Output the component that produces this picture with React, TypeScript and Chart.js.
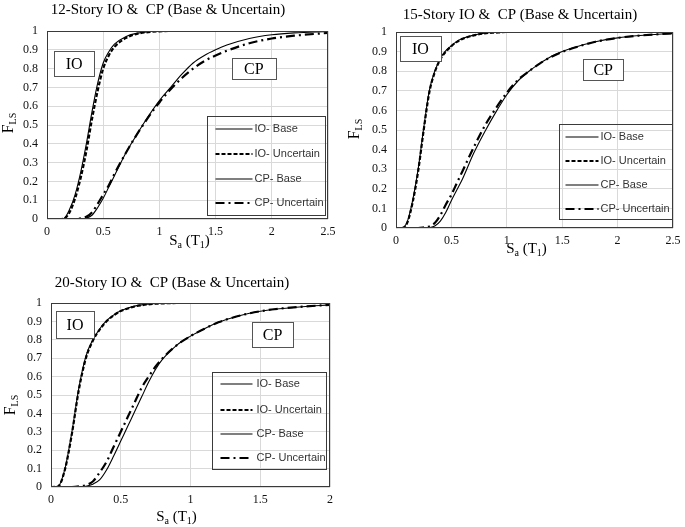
import React, { useEffect, useRef } from "react";
import { Chart, registerables } from "chart.js";

Chart.register(...registerables);

const SERIF = "'Liberation Serif', 'Times New Roman', serif";
const SANS = "'Liberation Sans', Arial, sans-serif";

const SERIES_LABELS = ["IO- Base", "IO- Uncertain", "CP- Base", "CP- Uncertain"];

// ---- 12-story ----
const X_12 = [0, 0.05, 0.1, 0.15, 0.2, 0.25, 0.3, 0.35, 0.4, 0.45, 0.5, 0.55, 0.6, 0.7, 0.8, 0.9, 1.0, 1.1, 1.2, 1.3, 1.4, 1.5, 1.6, 1.8, 2.0, 2.2, 2.5];
const IO_BASE_12 = [0, 0, 0, 0.003, 0.05, 0.13, 0.25, 0.4, 0.57, 0.72, 0.83, 0.89, 0.93, 0.97, 0.988, 0.996, 1, 1, 1, 1, 1, 1, 1, 1, 1, 1, 1];
const IO_UNC_12 = [0, 0, 0, 0.002, 0.035, 0.11, 0.22, 0.36, 0.53, 0.68, 0.8, 0.87, 0.915, 0.962, 0.985, 0.994, 0.998, 1, 1, 1, 1, 1, 1, 1, 1, 1, 1];
const CP_BASE_12 = [0, 0, 0, 0, 0, 0, 0, 0.005, 0.02, 0.06, 0.11, 0.17, 0.23, 0.35, 0.45, 0.545, 0.63, 0.7, 0.77, 0.83, 0.87, 0.9, 0.925, 0.96, 0.98, 0.99, 0.997];
const CP_UNC_12 = [0, 0, 0, 0, 0, 0, 0.004, 0.012, 0.035, 0.08, 0.13, 0.18, 0.24, 0.35, 0.45, 0.54, 0.62, 0.69, 0.75, 0.8, 0.84, 0.87, 0.895, 0.935, 0.96, 0.975, 0.99];

// ---- 15-story ----
const X_15 = [0, 0.05, 0.1, 0.15, 0.2, 0.25, 0.3, 0.35, 0.4, 0.45, 0.5, 0.55, 0.6, 0.7, 0.8, 0.9, 1.0, 1.1, 1.2, 1.3, 1.4, 1.5, 1.6, 1.8, 2.0, 2.2, 2.5];
const IO_BASE_15 = [0, 0, 0.03, 0.14, 0.3, 0.51, 0.7, 0.8, 0.865, 0.905, 0.93, 0.952, 0.967, 0.984, 0.994, 0.998, 1, 1, 1, 1, 1, 1, 1, 1, 1, 1, 1];
const IO_UNC_15 = [0, 0, 0.025, 0.13, 0.29, 0.5, 0.69, 0.795, 0.86, 0.9, 0.928, 0.95, 0.965, 0.982, 0.993, 0.997, 1, 1, 1, 1, 1, 1, 1, 1, 1, 1, 1];
const CP_BASE_15 = [0, 0, 0, 0, 0, 0, 0.002, 0.01, 0.035, 0.08, 0.14, 0.195, 0.25, 0.38, 0.49, 0.59, 0.68, 0.75, 0.8, 0.84, 0.875, 0.9, 0.92, 0.95, 0.97, 0.982, 0.993];
const CP_UNC_15 = [0, 0, 0, 0, 0, 0.003, 0.008, 0.025, 0.065, 0.12, 0.17, 0.23, 0.29, 0.41, 0.52, 0.61, 0.69, 0.755, 0.8, 0.84, 0.873, 0.898, 0.918, 0.95, 0.97, 0.982, 0.993];

// ---- 20-story ----
const X_20 = [0, 0.05, 0.1, 0.15, 0.2, 0.25, 0.3, 0.35, 0.4, 0.45, 0.5, 0.55, 0.6, 0.65, 0.7, 0.75, 0.8, 0.9, 1.0, 1.1, 1.2, 1.3, 1.4, 1.5, 1.6, 1.8, 2.0];
const IO_BASE_20 = [0, 0.003, 0.1, 0.3, 0.54, 0.71, 0.8, 0.86, 0.905, 0.935, 0.958, 0.972, 0.983, 0.99, 0.994, 0.997, 0.998, 1, 1, 1, 1, 1, 1, 1, 1, 1, 1];
const IO_UNC_20 = [0, 0.003, 0.095, 0.29, 0.53, 0.7, 0.795, 0.857, 0.902, 0.933, 0.956, 0.97, 0.981, 0.988, 0.993, 0.996, 0.998, 1, 1, 1, 1, 1, 1, 1, 1, 1, 1];
const CP_BASE_20 = [0, 0, 0, 0, 0, 0.004, 0.015, 0.04, 0.095, 0.17, 0.25, 0.33, 0.41, 0.49, 0.57, 0.64, 0.695, 0.77, 0.82, 0.86, 0.895, 0.92, 0.94, 0.955, 0.966, 0.98, 0.99];
const CP_UNC_20 = [0, 0, 0, 0, 0.003, 0.01, 0.03, 0.08, 0.14, 0.22, 0.3, 0.38, 0.46, 0.54, 0.6, 0.655, 0.7, 0.77, 0.82, 0.86, 0.895, 0.92, 0.94, 0.955, 0.966, 0.98, 0.99];

const TITLES = [
  "12-Story IO &  CP (Base & Uncertain)",
  "15-Story IO &  CP (Base & Uncertain)",
  "20-Story IO &  CP (Base & Uncertain)",
];

const STYLES = [
  { borderWidth: 1.1, borderDash: [] as number[] },
  { borderWidth: 2.2, borderDash: [4, 2] },
  { borderWidth: 1.1, borderDash: [] as number[] },
  { borderWidth: 2.2, borderDash: [9, 4, 2, 4] },
];

const PANELS = [
  {
    title: TITLES[0], xs: X_12, ys: [IO_BASE_12, IO_UNC_12, CP_BASE_12, CP_UNC_12], xMax: 2.5,
    left: 0, top: 0, w: 340, h: 250,
    pad: { left: 8, right: 12, top: 1 }, titleBottom: 12, yW: 39, xH: 31,
    yTitle: { x: 8, dy: -2 }, xTitle: { y: 240, dx: 2 },
    boxes: [{ t: "IO", x: 0.242, y: 0.826, w: 40, h: 25 }, { t: "CP", x: 1.84, y: 0.8, w: 44, h: 21 }],
    legend: { l: 160, t: 85, w: 118, h: 99, rows: [12, 37, 62, 86], s0: 8, s1: 45, tx: 47 },
  },
  {
    title: TITLES[1], xs: X_15, ys: [IO_BASE_15, IO_UNC_15, CP_BASE_15, CP_UNC_15], xMax: 2.5,
    left: 340, top: 0, w: 360, h: 260,
    pad: { left: 27, right: 27, top: 6 }, titleBottom: 8, yW: 29, xH: 32,
    yTitle: { x: 14, dy: -1 }, xTitle: { y: 248, dx: -8 },
    boxes: [{ t: "IO", x: 0.22, y: 0.916, w: 41, h: 25 }, { t: "CP", x: 1.87, y: 0.809, w: 40, h: 21 }],
    legend: { l: 163, t: 92, w: 113, h: 95, rows: [12, 36, 60, 84], s0: 6, s1: 39, tx: 41 },
  },
  {
    title: TITLES[2], xs: X_20, ys: [IO_BASE_20, IO_UNC_20, CP_BASE_20, CP_UNC_20], xMax: 2,
    left: 0, top: 260, w: 344, h: 267,
    pad: { left: 14, right: 14, top: 14 }, titleBottom: 11, yW: 37, xH: 40,
    yTitle: { x: 10, dy: 10 }, xTitle: { y: 256, dx: -14 },
    boxes: [{ t: "IO", x: 0.172, y: 0.883, w: 38, h: 27 }, { t: "CP", x: 1.588, y: 0.829, w: 41, h: 25 }],
    legend: { l: 161, t: 69, w: 114, h: 97, rows: [11, 37, 61, 85], s0: 8, s1: 40, tx: 44 },
  },
];

const fmtTick = (v: any) => String(Math.round(Number(v) * 10) / 10);

function drawRuns(ctx: CanvasRenderingContext2D, runs: { s: string; size: number; dy: number }[], cx: number, baseY: number) {
  let total = 0;
  const widths = runs.map((r) => {
    ctx.font = `${r.size}px ${SERIF}`;
    const w = ctx.measureText(r.s).width;
    total += w;
    return w;
  });
  let x = cx - total / 2;
  runs.forEach((r, i) => {
    ctx.font = `${r.size}px ${SERIF}`;
    ctx.fillText(r.s, x, baseY + r.dy);
    x += widths[i];
  });
}

const decorPlugin = {
  id: "decor",
  afterDatasetsDraw(chart: any, _args: any, opts: any) {
    const { ctx, chartArea: ca, scales } = chart;
    const xs = scales.x;
    const ys = scales.y;
    ctx.save();
    const L = Math.round(ca.left), T = Math.round(ca.top), R = Math.round(ca.right), B = Math.round(ca.bottom);
    ctx.strokeStyle = "#3a3a3a";
    ctx.lineWidth = 1;
    ctx.setLineDash([]);
    ctx.strokeRect(L + 0.5, T + 0.5, R - L - 1, B - T - 1);

    (opts.boxes || []).forEach((b: any) => {
      const px = xs.getPixelForValue(b.x);
      const py = ys.getPixelForValue(b.y);
      const bx = Math.round(px - b.w / 2) + 0.5;
      const by = Math.round(py - b.h / 2) + 0.5;
      ctx.fillStyle = "#fff";
      ctx.fillRect(bx, by, b.w, b.h);
      ctx.strokeStyle = "#555";
      ctx.lineWidth = 1;
      ctx.strokeRect(bx, by, b.w, b.h);
      ctx.fillStyle = "#000";
      ctx.font = `16px ${SERIF}`;
      ctx.textAlign = "center";
      ctx.textBaseline = "middle";
      ctx.fillText(b.t, px, py + 1);
    });

    const lg = opts.legend;
    if (lg) {
      const lx = Math.round(L + lg.l) + 0.5;
      const ly = Math.round(T + lg.t) + 0.5;
      ctx.strokeStyle = "#3a3a3a";
      ctx.lineWidth = 1;
      ctx.setLineDash([]);
      ctx.strokeRect(lx, ly, lg.w, lg.h);
      chart.data.datasets.forEach((ds: any, i: number) => {
        const ry = Math.round(ly + lg.rows[i]);
        ctx.save();
        ctx.strokeStyle = ds.borderColor;
        ctx.lineWidth = ds.borderWidth;
        ctx.setLineDash(ds.borderDash || []);
        ctx.beginPath();
        ctx.moveTo(lx + lg.s0, ry);
        ctx.lineTo(lx + lg.s1, ry);
        ctx.stroke();
        ctx.restore();
        ctx.fillStyle = "#333";
        ctx.font = `11px ${SANS}`;
        ctx.textAlign = "left";
        ctx.textBaseline = "middle";
        ctx.fillText(ds.label, lx + lg.tx, ry);
      });
    }

    ctx.fillStyle = "#000";
    ctx.textAlign = "left";
    ctx.textBaseline = "alphabetic";
    ctx.save();
    ctx.translate(opts.yTitle.x, (ca.top + ca.bottom) / 2 + opts.yTitle.dy);
    ctx.rotate(-Math.PI / 2);
    drawRuns(ctx, [{ s: "F", size: 16, dy: 0 }, { s: "LS", size: 10, dy: 3 }], 0, 5);
    ctx.restore();
    drawRuns(
      ctx,
      [
        { s: "S", size: 15, dy: 0 },
        { s: "a", size: 10, dy: 3 },
        { s: " (T", size: 15, dy: 0 },
        { s: "1", size: 10, dy: 3 },
        { s: ")", size: 15, dy: 0 },
      ],
      (ca.left + ca.right) / 2 + opts.xTitle.dx,
      opts.xTitle.y + 5
    );
    ctx.restore();
  },
};

function FragilityPanel({ p }: { p: any }) {
  const ref = useRef<HTMLCanvasElement>(null);
  useEffect(() => {
    const chart = new Chart(ref.current as HTMLCanvasElement, {
      type: "line",
      data: {
        datasets: p.ys.map((arr: number[], i: number) => ({
          label: SERIES_LABELS[i],
          data: p.xs.map((x: number, j: number) => ({ x, y: arr[j] })),
          borderColor: "#000",
          borderWidth: STYLES[i].borderWidth,
          borderDash: STYLES[i].borderDash,
          pointRadius: 0,
          cubicInterpolationMode: "monotone",
          fill: false,
        })),
      },
      options: {
        responsive: false,
        animation: false,
        devicePixelRatio: 1,
        layout: { padding: { left: p.pad.left, right: p.pad.right, top: p.pad.top, bottom: 0 } },
        scales: {
          x: {
            type: "linear",
            min: 0,
            max: p.xMax,
            grid: { color: "#d9d9d9", lineWidth: 1, drawTicks: false },
            border: { display: false },
            ticks: { stepSize: 0.5, padding: 6, maxRotation: 0, autoSkip: false, color: "#111", font: { family: SERIF, size: 12 }, callback: fmtTick },
            afterFit: (s: any) => {
              s.height = p.xH;
              s.paddingLeft = 0;
              s.paddingRight = 0;
            },
          },
          y: {
            type: "linear",
            min: 0,
            max: 1,
            grid: { color: "#d9d9d9", lineWidth: 1, drawTicks: false },
            border: { display: false },
            ticks: { stepSize: 0.1, padding: 9, autoSkip: false, color: "#111", font: { family: SERIF, size: 12 }, callback: fmtTick },
            afterFit: (s: any) => {
              s.width = p.yW;
              s.paddingTop = 0;
              s.paddingBottom = 0;
            },
          },
        },
        plugins: {
          legend: { display: false },
          tooltip: { enabled: false },
          title: {
            display: true,
            text: p.title,
            color: "#000",
            font: { family: SERIF, size: 15, weight: "normal", lineHeight: 1.2 },
            padding: { top: 0, bottom: p.titleBottom },
          },
          decor: { boxes: p.boxes, legend: p.legend, yTitle: p.yTitle, xTitle: p.xTitle },
        } as any,
      },
      plugins: [decorPlugin as any],
    } as any);
    return () => chart.destroy();
  }, []);
  return (
    <canvas
      ref={ref}
      width={p.w}
      height={p.h}
      style={{ position: "absolute", left: p.left, top: p.top, width: p.w, height: p.h }}
    />
  );
}

export default function App() {
  return (
    <div style={{ position: "absolute", left: 0, top: 0, width: 685, height: 527, overflow: "hidden", background: "#fff" }}>
      {PANELS.map((p, i) => (
        <FragilityPanel key={i} p={p} />
      ))}
    </div>
  );
}
